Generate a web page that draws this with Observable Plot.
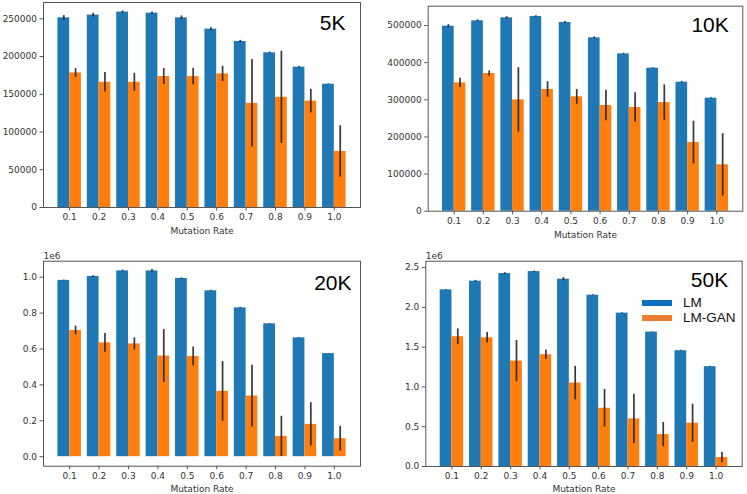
<!DOCTYPE html>
<html>
<head>
<meta charset="utf-8">
<script src="https://cdn.jsdelivr.net/npm/d3@7"></script>
<script src="https://cdn.jsdelivr.net/npm/@observablehq/plot@0.6"></script>
<style>
  body { margin: 0; background: #fff; }
  #wrap { position: relative; width: 747px; height: 494px; background: #fff; overflow: hidden; }
  #wrap > svg { position: absolute; }
  .leg { position: absolute; font-family: "Liberation Sans", Arial, sans-serif; font-size: 13.5px; color: #111; }
  .sw { position: absolute; width: 30px; height: 6px; }
</style>
</head>
<body>
<div id="wrap"></div>
<script>
const rates = ["0.1", "0.2", "0.3", "0.4", "0.5", "0.6", "0.7", "0.8", "0.9", "1.0"];
const seriesNames = ["LM", "LM-GAN"];
const seriesColors = ["#1f77b4", "#ff7f0e"];
const legendColors = ["#0a70c0", "#ef7d2f"];

const lm5k = [251300, 254900, 258900, 257500, 251300, 236300, 219900, 204900, 185900, 163300];
const lm5kErr = [3000, 2500, 1500, 1500, 2500, 2000, 1500, 1000, 1000, 500];
const gan5k = [178300, 165900, 165900, 173500, 173500, 177000, 138000, 146000, 141000, 74300];
const gan5kErr = [5700, 13000, 12000, 10600, 11000, 10000, 58000, 61000, 15700, 34000];

const lm10k = [498200, 512600, 520700, 524300, 508100, 466800, 423700, 385100, 347400, 304300];
const lm10kErr = [4000, 2500, 3000, 2000, 3000, 2500, 1500, 1000, 1500, 1000];
const gan10k = [345600, 370700, 299800, 327700, 307900, 284600, 279200, 292600, 184900, 124800];
const gan10kErr = [12600, 7000, 86600, 21000, 20000, 41000, 40000, 47600, 57500, 84000];

const lm20k = [982000, 1004000, 1035000, 1035000, 993000, 924000, 829000, 740000, 662000, 574000];
const lm20kErr = [2000, 4000, 4000, 8000, 3000, 3000, 3000, 2000, 2000, 1000];
const gan20k = [703000, 634000, 628000, 561000, 558000, 364000, 338000, 113000, 180000, 100000];
const gan20kErr = [24000, 52000, 34000, 147000, 53000, 166000, 172000, 112000, 121000, 69000];

const lm50k = [2220000, 2329000, 2425000, 2450000, 2354000, 2153000, 1927000, 1689000, 1455000, 1254000];
const lm50kErr = [5000, 10000, 10000, 8000, 20000, 5000, 5000, 3000, 5000, 5000];
const gan50k = [1631000, 1618000, 1325000, 1405000, 1049000, 732000, 598000, 401000, 544000, 113000];
const gan50kErr = [98000, 65000, 260000, 58000, 210000, 236000, 310000, 153000, 240000, 65000];

const yTicks5k = [0, 50000, 100000, 150000, 200000, 250000];
const yTicks10k = [0, 100000, 200000, 300000, 400000, 500000];
const yTicks20k = [0, 200000, 400000, 600000, 800000, 1000000];
const yTicks50k = [0, 500000, 1000000, 1500000, 2000000, 2500000];

const panels = [
  {title: "5K", lm: lm5k, lmErr: lm5kErr, gan: gan5k, ganErr: gan5kErr, ticks: yTicks5k,
   fmt: d => String(d), offset: null, yDomain: [0, 271600],
   left: 0, top: 0, width: 373, height: 240, mL: 43, mR: 13, mT: 2, mB: 33,
   tdx: -15, tdy: 20.5, ldy: 23.7},
  {title: "10K", lm: lm10k, lmErr: lm10kErr, gan: gan10k, ganErr: gan10kErr, ticks: yTicks10k,
   fmt: d => String(d), offset: null, yDomain: [0, 552000],
   left: 380, top: 0, width: 367, height: 240, mL: 47.7, mR: 4.7, mT: 5.7, mB: 29.3,
   tdx: -14, tdy: 19.5, ldy: 23.6},
  {title: "20K", lm: lm20k, lmErr: lm20kErr, gan: gan20k, ganErr: gan20kErr, ticks: yTicks20k,
   fmt: d => (d / 1e6).toFixed(1), offset: "1e6", yDomain: [-53000, 1089000],
   left: 0, top: 240, width: 373, height: 254, mL: 43, mR: 13, mT: 20.7, mB: 28.3,
   tdx: -9, tdy: 21.8, ldy: 22.6},
  {title: "50K", lm: lm50k, lmErr: lm50kErr, gan: gan50k, ganErr: gan50kErr, ticks: yTicks50k,
   fmt: d => (d / 1e6).toFixed(1), offset: "1e6", yDomain: [0, 2580000],
   left: 380, top: 240, width: 367, height: 254, mL: 45.3, mR: 5.3, mT: 20.7, mB: 28,
   tdx: -14, tdy: 18.8, ldy: 22.3}
];

const wrap = document.getElementById("wrap");

for (const p of panels) {
  const rows = [];
  rates.forEach((r, i) => {
    rows.push({i, s: 0, v: p.lm[i], e: p.lmErr[i]});
    rows.push({i, s: 1, v: p.gan[i], e: p.ganErr[i]});
  });
  const marks = [
    Plot.rectY(rows, {
      x1: d => d.i + (d.s === 0 ? -0.4 : 0),
      x2: d => d.i + (d.s === 0 ? 0 : 0.4),
      y1: 0, y2: "v",
      fill: d => seriesColors[d.s]
    }),
    Plot.ruleX(rows, {
      x: d => d.i + (d.s === 0 ? -0.2 : 0.2),
      y1: d => d.v - d.e, y2: d => d.v + d.e,
      stroke: "#222", strokeWidth: 1.7, strokeOpacity: 0.9
    }),
    Plot.frame({stroke: "#555", strokeWidth: 1}),
    Plot.axisX(d3.range(rates.length), {
      tickFormat: i => rates[i], tickSize: 3.5, tickPadding: 2.5, stroke: "#555",
      label: null
    }),
    Plot.axisY(p.ticks, {
      tickFormat: p.fmt, tickSize: 3.5, tickPadding: 3, stroke: "#555", label: null
    }),
    Plot.text(["Mutation Rate"], {
      frameAnchor: "bottom", dy: p.ldy, fill: "#333", fontSize: 9, lineAnchor: "middle"
    }),
    Plot.text([p.title], {
      frameAnchor: "top-right", textAnchor: "end", lineAnchor: "middle",
      dx: p.tdx, dy: p.tdy, fontSize: 21, fill: "#000",
      fontFamily: "Liberation Sans, Arial, sans-serif"
    })
  ];
  if (p.offset) {
    marks.push(Plot.text([p.offset], {
      frameAnchor: "top-left", textAnchor: "start", lineAnchor: "bottom",
      dy: -2.5, fill: "#333", fontSize: 9
    }));
  }
  const svg = Plot.plot({
    width: p.width, height: p.height,
    marginLeft: p.mL, marginRight: p.mR, marginTop: p.mT, marginBottom: p.mB,
    x: {type: "linear", domain: [-0.89, 9.89]},
    y: {type: "linear", domain: p.yDomain},
    style: {fontFamily: "DejaVu Sans, sans-serif", fontSize: "9px", color: "#333", background: "transparent"},
    marks
  });
  svg.style.left = p.left + "px";
  svg.style.top = p.top + "px";
  wrap.appendChild(svg);
}

// legend in the 50K panel
const legTops = [303.3, 318.3];
seriesNames.forEach((name, k) => {
  const sw = document.createElement("div");
  sw.className = "sw";
  sw.style.left = "642px";
  sw.style.top = (legTops[k] - 3) + "px";
  sw.style.background = legendColors[k];
  wrap.appendChild(sw);
  const t = document.createElement("div");
  t.className = "leg";
  t.textContent = name;
  t.style.left = "683px";
  t.style.top = (legTops[k] - 8) + "px";
  t.style.lineHeight = "16px";
  wrap.appendChild(t);
});
</script>
</body>
</html>
